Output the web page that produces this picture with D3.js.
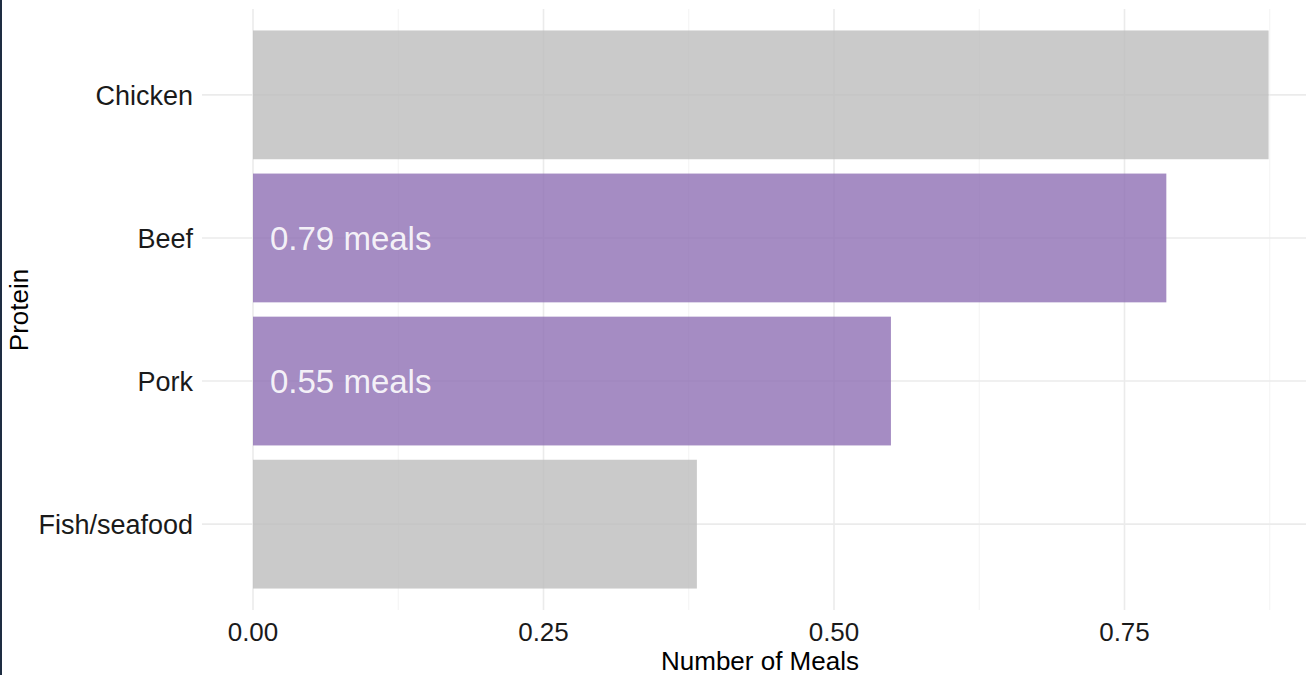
<!DOCTYPE html>
<html><head><meta charset="utf-8">
<script src="https://cdn.jsdelivr.net/npm/d3@7/dist/d3.min.js"></script>
<style>
html,body{margin:0;padding:0;background:#fff;}
svg{display:block;font-family:"Liberation Sans",Arial,Helvetica,sans-serif;}
</style></head>
<body>
<script>
const categories = ["Chicken","Beef","Pork","Fish/seafood"];
const meals = [0.874, 0.786, 0.549, 0.382];
const highlighted = [false, true, true, false];
const xTicks = [0, 0.25, 0.5, 0.75];
const xMinor = [0.125, 0.375, 0.625, 0.875];
const xTickLabels = ["0.00","0.25","0.50","0.75"];

const W = 1306, H = 675;
const svg = d3.select("body").append("svg").attr("width", W).attr("height", H);

const panel = {left: 202, right: 1320, top: 9, bottom: 610};
const x = d3.scaleLinear().domain([0, 0.25]).range([253, 543.5]);
const y = d3.scaleBand().domain(categories)
  .range([panel.top, panel.bottom]).paddingInner(0.1).paddingOuter(0.15);

// left border
svg.append("rect").attr("x",0).attr("y",0).attr("width",2).attr("height",H).attr("fill","#1e2d42");

const g = svg.append("g");
// minor grid
g.selectAll("line.minor").data(xMinor).join("line")
  .attr("x1", d=>x(d)).attr("x2", d=>x(d))
  .attr("y1", panel.top).attr("y2", panel.bottom)
  .attr("stroke", "#f4f4f4").attr("stroke-width", 1.1);
// major grid vertical
g.selectAll("line.majorx").data(xTicks).join("line")
  .attr("x1", d=>x(d)).attr("x2", d=>x(d))
  .attr("y1", panel.top).attr("y2", panel.bottom)
  .attr("stroke", "#ebebeb").attr("stroke-width", 1.6);
// major grid horizontal
g.selectAll("line.majory").data(categories).join("line")
  .attr("x1", panel.left).attr("x2", W)
  .attr("y1", d=>y(d)+y.bandwidth()/2).attr("y2", d=>y(d)+y.bandwidth()/2)
  .attr("stroke", "#ebebeb").attr("stroke-width", 1.6);

// bars
const data = categories.map((c,i)=>({c, v: meals[i], h: highlighted[i]}));
g.selectAll("rect.bar").data(data).join("rect")
  .attr("x", x(0)).attr("y", d=>y(d.c))
  .attr("width", d=>x(d.v)-x(0)).attr("height", y.bandwidth())
  .attr("fill", d=>d.h ? "#8c6cb2" : "#bbbbbb").attr("fill-opacity", 0.78);

// labels in bars
g.selectAll("text.lab").data(data.filter(d=>d.h)).join("text")
  .attr("x", x(0)+17).attr("y", d=>y(d.c)+y.bandwidth()/2)
  .attr("dy","0.36em")
  .attr("fill","#ffffff").attr("fill-opacity",0.9)
  .attr("font-size", 33).text(d=>d3.format(".2f")(d.v)+" meals");

// y axis labels
svg.selectAll("text.ylab").data(categories).join("text")
  .attr("x", 193).attr("y", d=>y(d)+y.bandwidth()/2).attr("dy","0.36em")
  .attr("text-anchor","end").attr("font-size",27).attr("fill","#1a1a1a").text(d=>d);

// x tick labels
svg.selectAll("text.xlab").data(xTicks).join("text")
  .attr("x", d=>x(d)).attr("y", 632).attr("dy","0.36em")
  .attr("text-anchor","middle").attr("font-size",26).attr("fill","#1a1a1a")
  .text((d,i)=>xTickLabels[i]);

// axis titles
svg.append("text").attr("x", 760).attr("y", 670)
  .attr("text-anchor","middle").attr("font-size",26).attr("fill","#000").text("Number of Meals");
svg.append("text").attr("transform","translate(28,310) rotate(-90)")
  .attr("text-anchor","middle").attr("font-size",26).attr("fill","#000").text("Protein");
</script>
</body></html>
